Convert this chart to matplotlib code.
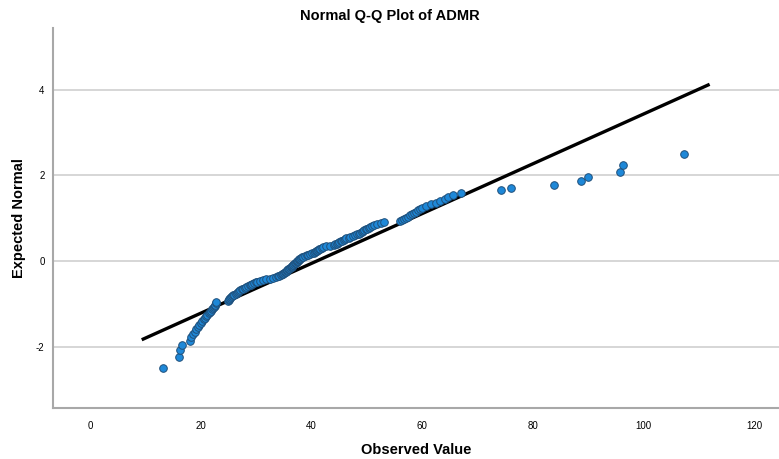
from statistics import NormalDist
import matplotlib.pyplot as plt

observed = [
    13.2, 16.1, 16.3, 16.6, 18.0, 18.3, 18.6, 18.9, 19.2, 19.4,
    19.7, 20.0, 20.3, 20.5, 20.8, 21.0, 21.2, 21.4, 21.6, 21.8,
    22.0, 22.2, 22.3, 22.5, 22.6, 22.7, 22.8, 24.9, 25.0, 25.1,
    25.3, 25.5, 25.6, 25.8, 26.0, 26.3, 26.5, 26.7, 26.9, 27.1,
    27.4, 27.6, 27.9, 28.1, 28.5, 28.8, 29.1, 29.3, 29.6, 29.9,
    30.2, 30.7, 31.2, 31.7, 32.4, 33.0, 33.6, 33.9, 34.1, 34.4,
    34.7, 34.9, 35.0, 35.2, 35.3, 35.5, 35.6, 35.8, 35.9, 36.1,
    36.2, 36.4, 36.5, 36.6, 36.7, 36.9, 37.0, 37.1, 37.3, 37.4,
    37.5, 37.7, 37.8, 37.9, 38.1, 38.2, 38.5, 38.8, 39.1, 39.4,
    39.8, 40.1, 40.4, 40.6, 40.8, 41.0, 41.2, 41.4, 41.6, 41.8,
    42.0, 42.6, 43.3, 44.0, 44.3, 44.5, 44.8, 45.0, 45.3, 45.5,
    45.8, 46.0, 46.3, 46.7, 47.0, 47.4, 47.8, 48.2, 48.5, 48.8,
    49.1, 49.3, 49.5, 49.8, 50.0, 50.3, 50.5, 50.9, 51.3, 51.8,
    52.5, 53.1, 56.0, 56.3, 56.7, 57.1, 57.4, 57.8, 58.1, 58.5,
    58.9, 59.2, 59.6, 60.0, 60.7, 61.6, 62.4, 63.2, 64.0, 64.7,
    65.6, 67.0, 74.2, 76.0, 83.8, 88.6, 89.9, 95.7, 96.3, 107.3,
]

# reference line end points
line_x = [9.6, 111.6]
line_y = [-1.82, 4.11]

x_ticks = [0, 20, 40, 60, 80, 100, 120]
y_ticks = [-2, 0, 2, 4]

# expected normal quantiles from ranks
n = len(observed)
expected = [NormalDist().inv_cdf(i / (n + 1)) for i in range(1, n + 1)]

plt.rcParams['font.family'] = ['Liberation Sans', 'DejaVu Sans']
plt.rcParams['axes.unicode_minus'] = False

fig = plt.figure(figsize=(7.79, 4.59), dpi=100)
ax = fig.add_axes([0.068, 0.111, 0.932, 0.828])

ax.plot(line_x, line_y, color='black', linewidth=2.4, zorder=2)
ax.scatter(observed, expected, s=30, color='#1e88d8', edgecolor='#1f4f7a',
           linewidth=0.7, zorder=3)

ax.set_xlim(-6.7, 124.4)
ax.set_ylim(-3.43, 5.44)
ax.set_xticks(x_ticks)
ax.set_yticks(y_ticks)
ax.tick_params(length=0, labelsize=7)
ax.tick_params(axis='x', pad=9)
ax.tick_params(axis='y', pad=6)
ax.yaxis.grid(True, color='#d0d0d0', linewidth=1.2)
ax.set_axisbelow(True)

for side in ['top', 'right']:
    ax.spines[side].set_visible(False)
for side in ['left', 'bottom']:
    ax.spines[side].set_color('#a8a8a8')
    ax.spines[side].set_linewidth(1.5)

ax.set_xlabel('Observed Value', fontsize=10.5, fontweight='bold', labelpad=9)
ax.set_ylabel('Expected Normal', fontsize=10.5, fontweight='bold', labelpad=7)
fig.text(0.5, 0.965, 'Normal Q-Q Plot of ADMR', ha='center', va='center',
         fontsize=10.5, fontweight='bold')

fig.savefig('out.png', dpi=100)
